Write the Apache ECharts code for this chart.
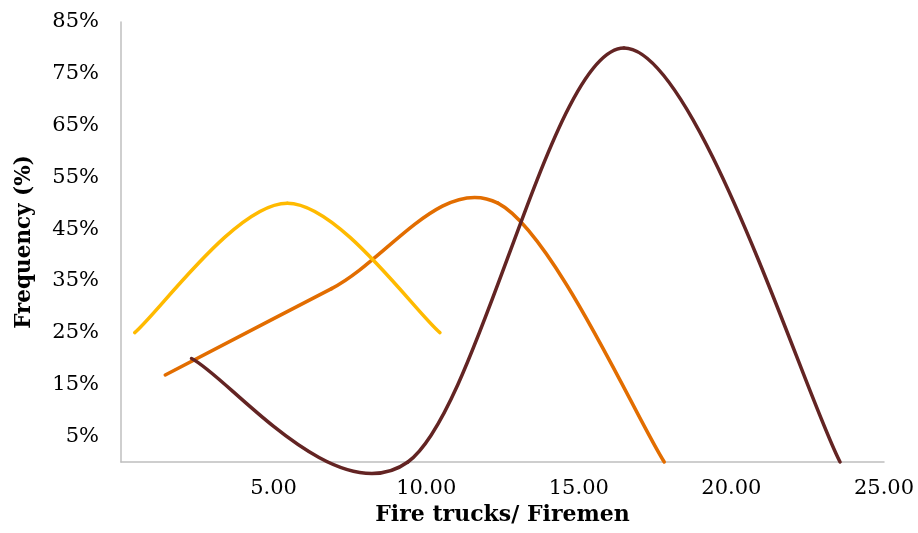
<!DOCTYPE html>
<html>
<head>
<meta charset="utf-8">
<script src="https://cdn.jsdelivr.net/npm/echarts@6/dist/echarts.min.js"></script>
<style>
  html, body { margin: 0; padding: 0; background: #ffffff; }
  #chart { width: 918px; height: 533px; }
</style>
</head>
<body>
<div id="chart"></div>
<script>
// ---- data ----
const yellowX = [0.45, 5.45, 10.45];
const yellowY = [25, 50, 25];

const orangeX = [1.45, 6.9, 12.35, 17.8];
const orangeY = [16.8, 33.5, 50, 0];

const darkX = [2.31, 9.4, 16.48, 23.56];
const darkY = [20, 0, 80, 0];

const xTickValues = [5, 10, 15, 20, 25];
const yTickValues = [5, 15, 25, 35, 45, 55, 65, 75, 85];

// ---- helpers ----
function zip(xs, ys) { return xs.map((x, i) => [x, ys[i]]); }

// smooth curve (Catmull-Rom style, as in spreadsheet charts) drawn segment by segment,
// positions obtained from the chart's own axes via api.coord
function curveSeries(name, xs, ys, color) {
  const pts = zip(xs, ys);
  return {
    name: name,
    type: 'custom',
    clip: false,
    data: pts,
    encode: { x: 0, y: 1 },
    renderItem: function (params, api) {
      const i = params.dataIndex;
      if (i === 0) return { type: 'group', children: [] };
      const P = pts.map(p => api.coord(p));
      const p0 = P[Math.max(i - 2, 0)];
      const p1 = P[i - 1];
      const p2 = P[i];
      const p3 = P[Math.min(i + 1, P.length - 1)];
      return {
        type: 'bezierCurve',
        shape: {
          x1: p1[0], y1: p1[1],
          cpx1: p1[0] + (p2[0] - p0[0]) / 6, cpy1: p1[1] + (p2[1] - p0[1]) / 6,
          cpx2: p2[0] - (p3[0] - p1[0]) / 6, cpy2: p2[1] - (p3[1] - p1[1]) / 6,
          x2: p2[0], y2: p2[1]
        },
        style: { stroke: color, lineWidth: 3.5, fill: null, lineCap: 'round' }
      };
    }
  };
}

const FONT = '"DejaVu Serif", "Liberation Serif", serif';

const chart = echarts.init(document.getElementById('chart'), null, { renderer: 'canvas' });
chart.setOption({
  animation: false,
  backgroundColor: '#ffffff',
  grid: { left: 121, right: 34, top: 22, bottom: 71, containLabel: false },
  xAxis: {
    type: 'value',
    min: 0, max: 25, interval: 5,
    name: 'Fire trucks/ Firemen',
    nameLocation: 'middle',
    nameGap: 40,
    nameTextStyle: { fontFamily: FONT, fontSize: 22, fontWeight: 'bold', color: '#000' },
    axisLine: { show: true, onZero: true, lineStyle: { color: '#BFBFBF', width: 1.5 } },
    axisTick: { show: false },
    splitLine: { show: false },
    axisLabel: {
      margin: 16,
      fontFamily: FONT, fontSize: 21, color: '#000',
      formatter: v => (xTickValues.indexOf(v) >= 0 ? v.toFixed(2) : '')
    }
  },
  yAxis: {
    type: 'value',
    min: 0, max: 85, interval: 5,
    name: 'Frequency (%)',
    nameLocation: 'middle',
    nameGap: 86,
    nameTextStyle: { fontFamily: FONT, fontSize: 21.5, fontWeight: 'bold', color: '#000' },
    axisLine: { show: true, lineStyle: { color: '#BFBFBF', width: 1.5 } },
    axisTick: { show: false },
    splitLine: { show: false },
    axisLabel: {
      margin: 22,
      fontFamily: FONT, fontSize: 21, color: '#000',
      formatter: v => (yTickValues.indexOf(v) >= 0 ? v + '%' : '')
    }
  },
  series: [
    curveSeries('Orange', orangeX, orangeY, '#E26D00'),
    curveSeries('Yellow', yellowX, yellowY, '#FFBA00'),
    curveSeries('Dark', darkX, darkY, '#632423')
  ]
});
</script>
</body>
</html>
